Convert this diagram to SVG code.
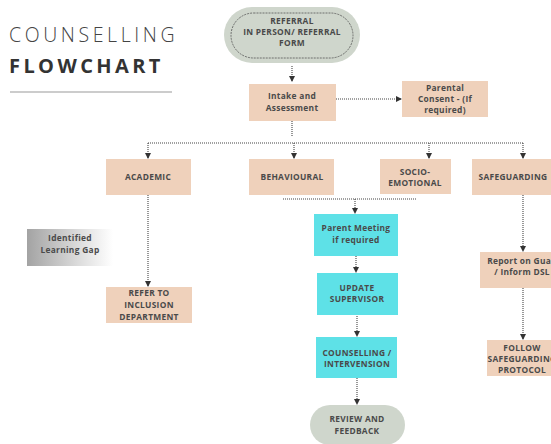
<svg xmlns="http://www.w3.org/2000/svg" width="551" height="444" viewBox="0 0 551 444">
<style>
.t{font-family:"Open Sans","Liberation Sans",sans-serif;font-weight:700;font-size:8.4px;letter-spacing:0.3px;fill:#4a4a4a;text-anchor:middle}
.pe{fill:#efd1bb}
.cy{fill:#5ee1e7}
.pill{fill:#cfd6cc}
.c{fill:none;stroke:#444;stroke-width:1.1;stroke-dasharray:1 1}
</style>
<defs>
<marker id="ah" viewBox="0 0 6 6" refX="5" refY="3" markerWidth="6" markerHeight="6" markerUnits="userSpaceOnUse" orient="auto">
<path d="M0,0 L6,3 L0,6 Z" fill="#333"/>
</marker>
<linearGradient id="gr" x1="0" y1="0" x2="1" y2="0">
<stop offset="0" stop-color="#a3a3a3"/>
<stop offset="0.6" stop-color="#dcdcdc"/>
<stop offset="1" stop-color="#ffffff"/>
</linearGradient>
</defs>
<rect width="551" height="444" fill="#fff"/>
<g id="title">
<text x="9" y="42" font-family="'Open Sans','Liberation Sans',sans-serif" font-size="19.5" font-weight="300" letter-spacing="3.6" fill="#444">COUNSELLING</text>
<text x="9" y="73" font-family="'Open Sans','Liberation Sans',sans-serif" font-size="20" font-weight="700" letter-spacing="3.4" fill="#333">FLOWCHART</text>
<line x1="10" y1="92" x2="172" y2="92" stroke="#9a9a9a" stroke-width="1.2"/>
</g>
<g id="connectors">
<path class="c" d="M292,66 V81" marker-end="url(#ah)"/>
<path class="c" d="M336,99 H401" marker-end="url(#ah)"/>
<path class="c" d="M292,121 V137"/>
<path class="c" d="M148,143 H523"/>
<path class="c" d="M148,143 V158" marker-end="url(#ah)"/>
<path class="c" d="M294,143 V158" marker-end="url(#ah)"/>
<path class="c" d="M429,143 V158" marker-end="url(#ah)"/>
<path class="c" d="M523,143 V158" marker-end="url(#ah)"/>
<path class="c" d="M283,199 H417"/>
<path class="c" d="M355,199 V213" marker-end="url(#ah)"/>
<path class="c" d="M356,256 V272" marker-end="url(#ah)"/>
<path class="c" d="M357,316 V336" marker-end="url(#ah)"/>
<path class="c" d="M357,378 V404" marker-end="url(#ah)"/>
<path class="c" d="M148,195 V286" marker-end="url(#ah)"/>
<path class="c" d="M523,195 V251" marker-end="url(#ah)"/>
<path class="c" d="M523,288 V339" marker-end="url(#ah)"/>
</g>
<g id="referral">
<rect class="pill" x="224" y="7" width="136" height="56" rx="28"/>
<rect x="231" y="13" width="122" height="45" rx="22.5" fill="none" stroke="#555" stroke-width="0.8" stroke-dasharray="2 1"/>
<text class="t" x="292" y="24">REFERRAL</text>
<text class="t" x="292" y="35">IN PERSON/ REFERRAL</text>
<text class="t" x="292" y="46">FORM</text>
</g>
<g id="intake">
<rect class="pe" x="249" y="84" width="87" height="37"/>
<text class="t" x="292" y="99">Intake and</text>
<text class="t" x="292" y="111">Assessment</text>
</g>
<g id="consent">
<rect class="pe" x="402" y="81" width="86" height="36"/>
<text class="t" x="445" y="91">Parental</text>
<text class="t" x="445" y="102">Consent - (If</text>
<text class="t" x="445" y="113">required)</text>
</g>
<g id="academic">
<rect class="pe" x="106" y="159" width="85" height="36"/>
<text class="t" x="148" y="180">ACADEMIC</text>
</g>
<g id="behavioural">
<rect class="pe" x="249" y="159" width="85" height="36"/>
<text class="t" x="292" y="180">BEHAVIOURAL</text>
</g>
<g id="socio">
<rect class="pe" x="380" y="159" width="71" height="35"/>
<text class="t" x="415" y="175">SOCIO-</text>
<text class="t" x="415" y="186">EMOTIONAL</text>
</g>
<g id="safeguarding">
<rect class="pe" x="472" y="159" width="85" height="36"/>
<text class="t" x="513" y="180">SAFEGUARDING</text>
</g>
<g id="gap">
<rect x="27" y="229" width="86" height="37" fill="url(#gr)"/>
<text class="t" x="70" y="241">Identified</text>
<text class="t" x="70" y="253">Learning Gap</text>
</g>
<g id="inclusion">
<rect class="pe" x="106" y="287" width="86" height="36"/>
<text class="t" x="149" y="296">REFER TO</text>
<text class="t" x="149" y="308">INCLUSION</text>
<text class="t" x="149" y="320">DEPARTMENT</text>
</g>
<g id="parent">
<rect class="cy" x="314" y="214" width="84" height="42"/>
<text class="t" x="356" y="231">Parent Meeting</text>
<text class="t" x="356" y="243">if required</text>
</g>
<g id="supervisor">
<rect class="cy" x="317" y="273" width="81" height="42"/>
<text class="t" x="357" y="291">UPDATE</text>
<text class="t" x="357" y="302">SUPERVISOR</text>
</g>
<g id="counselling">
<rect class="cy" x="316" y="337" width="81" height="41"/>
<text class="t" x="357" y="356">COUNSELLING /</text>
<text class="t" x="357" y="367">INTERVENSION</text>
</g>
<g id="review">
<rect class="pill" x="310" y="405" width="95" height="40" rx="20"/>
<text class="t" x="357" y="422">REVIEW AND</text>
<text class="t" x="357" y="434">FEEDBACK</text>
</g>
<g id="report">
<rect class="pe" x="480" y="252" width="80" height="36"/>
<text class="t" x="524" y="264">Report on Guard</text>
<text class="t" x="522" y="275">/ Inform DSL</text>
</g>
<g id="protocol">
<rect class="pe" x="487" y="340" width="70" height="36"/>
<text class="t" x="522" y="351">FOLLOW</text>
<text class="t" x="522" y="362">SAFEGUARDING</text>
<text class="t" x="522" y="373">PROTOCOL</text>
</g>
</svg>
